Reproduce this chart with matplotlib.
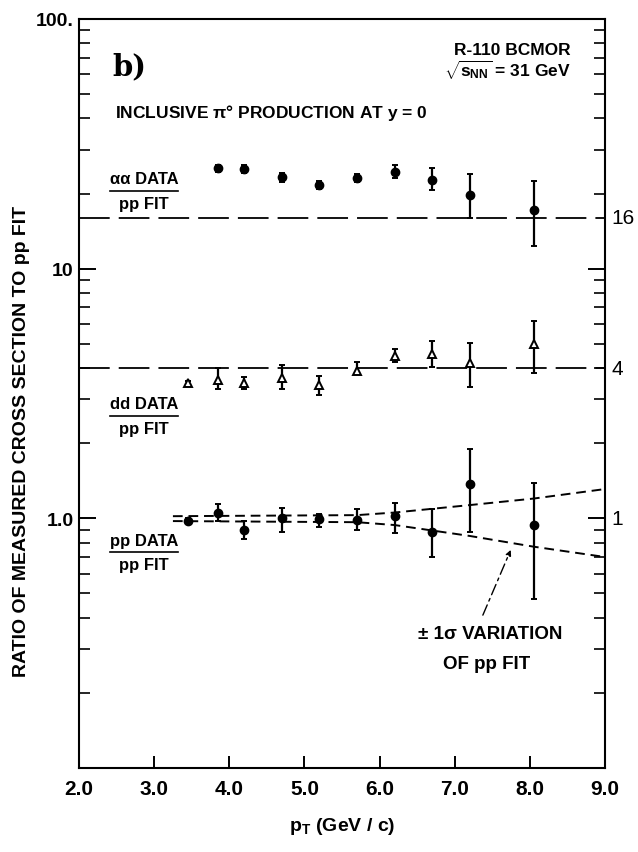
import matplotlib
matplotlib.use("Agg")
import matplotlib.pyplot as plt
from matplotlib.ticker import FixedLocator, FixedFormatter, NullFormatter
from matplotlib.transforms import blended_transform_factory

plt.rcParams['font.family'] = ['Liberation Sans', 'DejaVu Sans']
plt.rcParams['font.weight'] = 'bold'
plt.rcParams['axes.labelweight'] = 'bold'
plt.rcParams['mathtext.fontset'] = 'custom'
plt.rcParams['mathtext.rm'] = 'Liberation Sans:bold'
plt.rcParams['mathtext.it'] = 'Liberation Sans:bold'

# alpha-alpha / pp fit
aa_pt = [3.85, 4.2, 4.7, 5.2, 5.7, 6.2, 6.7, 7.2, 8.05]
aa_ratio = [25.2, 25.0, 23.2, 21.6, 23.1, 24.4, 22.6, 19.7, 17.2]
aa_low = [24.3, 24.1, 22.3, 20.8, 22.2, 23.1, 20.6, 16.0, 12.3]
aa_high = [26.1, 25.9, 24.1, 22.4, 24.0, 26.0, 25.2, 23.9, 22.4]

# dd / pp fit
dd_pt = [3.45, 3.85, 4.2, 4.7, 5.2, 5.7, 6.2, 6.7, 7.2, 8.05]
dd_ratio = [3.47, 3.58, 3.47, 3.65, 3.43, 3.90, 4.45, 4.56, 4.18, 4.97]
dd_low = [3.40, 3.30, 3.30, 3.30, 3.13, 3.79, 4.23, 4.03, 3.37, 3.81]
dd_high = [3.54, 4.00, 3.68, 4.13, 3.73, 4.23, 4.77, 5.12, 5.03, 6.18]

# pp / pp fit
pp_pt = [3.45, 3.85, 4.2, 4.7, 5.2, 5.7, 6.2, 6.7, 7.2, 8.05]
pp_ratio = [0.98, 1.05, 0.90, 1.0, 0.99, 0.985, 1.02, 0.885, 1.37, 0.94]
pp_low = [0.96, 0.98, 0.83, 0.885, 0.926, 0.898, 0.87, 0.697, 0.885, 0.477]
pp_high = [1.00, 1.14, 0.98, 1.097, 1.04, 1.087, 1.149, 1.087, 1.89, 1.39]

# +-1 sigma band of the pp fit
band_pt = [3.25, 5.7, 6.2, 7.2, 8.05, 9.0]
band_high = [1.02, 1.03, 1.055, 1.13, 1.20, 1.31]
band_low = [0.975, 0.965, 0.94, 0.85, 0.77, 0.70]

# expected A^2 scaling levels
levels = [16, 4, 1]
level_labels = ['16', '4', '1']

fig = plt.figure(figsize=(6.38, 8.53), dpi=100)
ax = fig.add_axes([79 / 638, 84 / 853, 526 / 638, 749 / 853])
ax.set_yscale('log')
ax.set_xlim(2.0, 9.0)
ax.set_ylim(0.1, 100)

dash_long = (17, 5)
ax.axhline(levels[0], color='black', lw=1.3, dashes=dash_long)
ax.axhline(levels[1], color='black', lw=1.3, dashes=dash_long)
ax.plot(band_pt, band_high, color='black', lw=1.4, dashes=(5, 3))
ax.plot(band_pt, band_low, color='black', lw=1.4, dashes=(5, 3))


def errs(y, lo, hi):
    return [[v - l for v, l in zip(y, lo)], [h - v for v, h in zip(y, hi)]]


bar_kw = dict(ecolor='black', elinewidth=1.6, capsize=2.5, capthick=1.4, linestyle='none')
ax.errorbar(aa_pt, aa_ratio, yerr=errs(aa_ratio, aa_low, aa_high), marker='o',
            ms=6, mfc='black', mec='black', **bar_kw)
ax.errorbar(dd_pt, dd_ratio, yerr=errs(dd_ratio, dd_low, dd_high), marker='^',
            ms=6, mfc='white', mec='black', mew=1.4, **bar_kw)
ax.errorbar(pp_pt, pp_ratio, yerr=errs(pp_ratio, pp_low, pp_high), marker='o',
            ms=6, mfc='black', mec='black', **bar_kw)

# axes styling
for s in ax.spines.values():
    s.set_linewidth(1.5)
ax.yaxis.set_major_locator(FixedLocator([0.1, 1, 10, 100]))
ax.yaxis.set_major_formatter(FixedFormatter(['', '1.0', '10', '100.']))
minors = [m * d for d in (0.1, 1, 10) for m in range(2, 10)]
ax.yaxis.set_minor_locator(FixedLocator(minors))
ax.yaxis.set_minor_formatter(NullFormatter())
ax.tick_params(axis='y', which='major', direction='in', length=12, width=1.4,
               right=True, labelsize=14, pad=4)
ax.tick_params(axis='y', which='minor', direction='in', length=8, width=1.2, right=True)
ax.set_xticks([2, 3, 4, 5, 6, 7, 8, 9])
ax.set_xticklabels(['2.0', '3.0', '4.0', '5.0', '6.0', '7.0', '8.0', '9.0'])
ax.tick_params(axis='x', direction='in', length=9, width=1.4, labelsize=15, pad=8)

ax.set_xlabel(r'$\mathrm{p_T}$ (GeV / c)', fontsize=14, labelpad=12)
ax.set_ylabel('RATIO OF MEASURED CROSS SECTION TO pp FIT', fontsize=14)
ax.yaxis.set_label_coords(-0.093, 0.437)

# level labels on the right
rt = blended_transform_factory(ax.transAxes, ax.transData)
for lv, lab in zip(levels, level_labels):
    ax.text(1.012, lv, lab, transform=rt, fontsize=15, va='center', ha='left',
            fontweight='normal')

# annotations
ax.text(0.063, 0.937, 'b)', transform=ax.transAxes, fontsize=21, family='DejaVu Serif',
        fontweight='bold', va='center')
ax.text(0.935, 0.959, 'R-110 BCMOR', transform=ax.transAxes, fontsize=12.5, ha='right',
        va='center')
ax.text(0.935, 0.932, r'$\sqrt{s_{NN}}$ = 31 GeV', transform=ax.transAxes, fontsize=12.5,
        ha='right', va='center')
ax.text(0.068, 0.876, r'INCLUSIVE $\pi$° PRODUCTION AT y = 0', transform=ax.transAxes,
        fontsize=12.5, va='center')

frac_x = 0.124
for num, y_line in (('αα DATA', 20.5), ('dd DATA', 2.57), ('pp DATA', 0.73)):
    ax.text(frac_x, y_line * 1.12, num, transform=rt, fontsize=12, ha='center', va='center')
    ax.text(frac_x, y_line / 1.12, 'pp FIT', transform=rt, fontsize=12, ha='center', va='center')
    ax.plot([frac_x - 0.065, frac_x + 0.065], [y_line, y_line], transform=rt,
            color='black', lw=1.2)

ax.annotate('', xy=(7.76, 0.765), xytext=(7.36, 0.40),
            arrowprops=dict(arrowstyle='-|>', color='black', lw=1.0, linestyle=(0, (8, 3, 2, 3)),
                            mutation_scale=8))
ax.text(7.47, 0.345, '± 1σ VARIATION', fontsize=13.5, ha='center', va='center')
ax.text(7.43, 0.262, 'OF pp FIT', fontsize=13.5, ha='center', va='center')

fig.savefig('out.png', dpi=100)
